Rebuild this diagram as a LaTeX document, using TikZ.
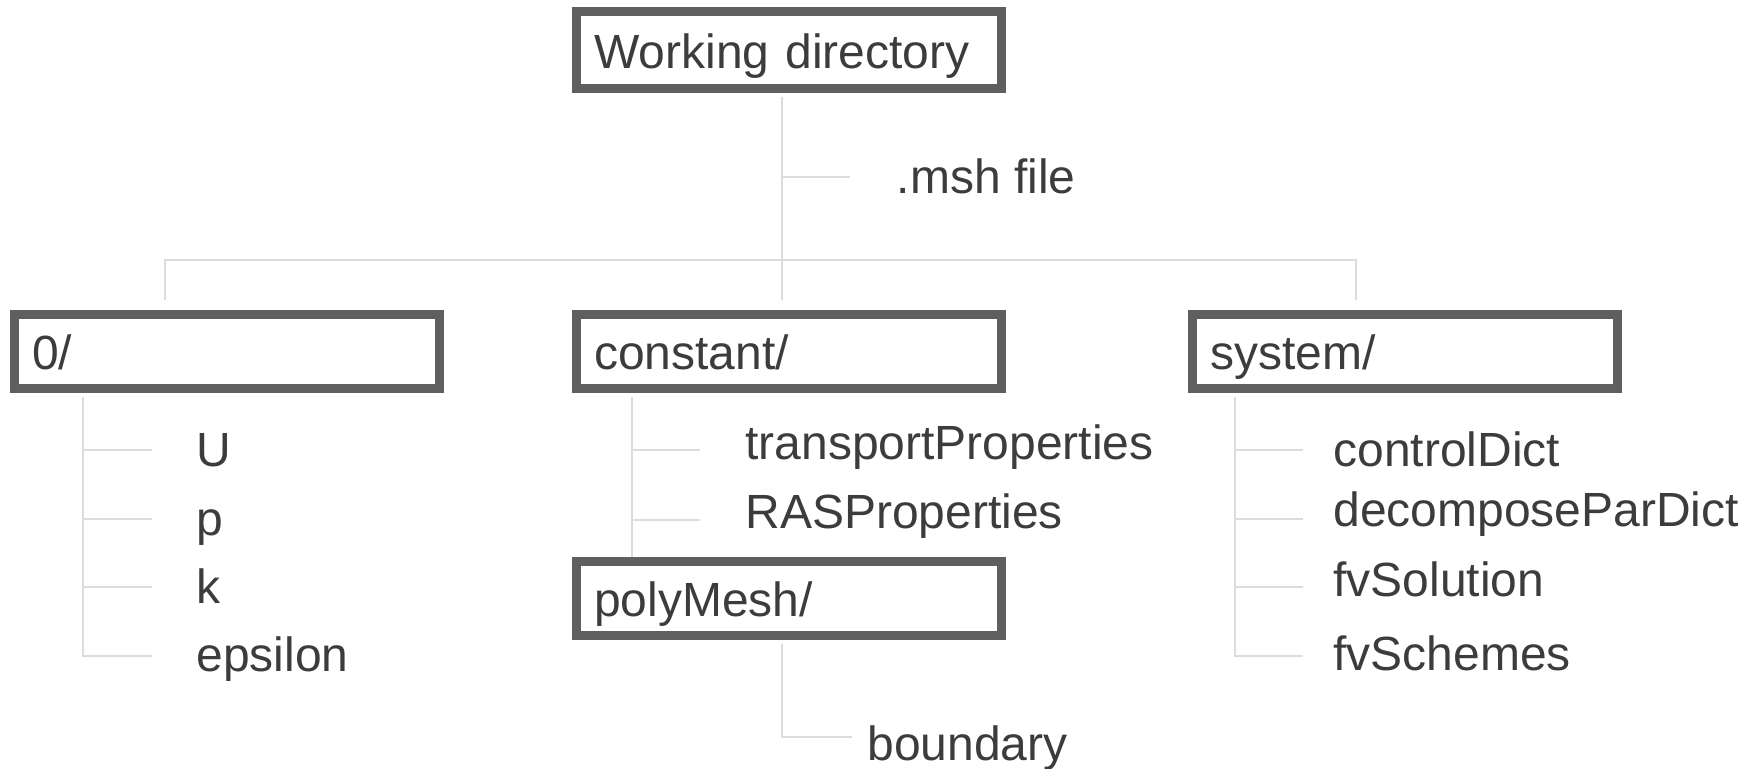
\documentclass[tikz,border=0pt]{standalone}
\usepackage{fontspec}
\setmainfont{Liberation Sans}
\usetikzlibrary{positioning}
\definecolor{boxgray}{HTML}{5F5F5F}
\definecolor{textgray}{HTML}{3C3C3C}
\definecolor{linegray}{HTML}{DCDCDC}
\tikzset{
	dirbox/.style={rectangle, draw=boxgray, line width=4.5pt, text width=194.5pt, inner xsep=9pt, inner ysep=0pt,
		minimum height=37pt, align=left, text height=18pt, text depth=0pt, text=textgray,
		font=\fontsize{24pt}{28pt}\selectfont},
	fileitem/.style={inner sep=0pt, text height=16pt, text depth=0pt, text=textgray,
		font=\fontsize{24pt}{28pt}\selectfont},
	treeline/.style={draw=linegray, line width=1pt},
}

\begin{document}
\begin{tikzpicture}[x=0.5pt, y=-0.5pt]
			%%%%% START %%%%%
			\useasboundingbox (0,0) rectangle (1763,768);
			
			\node[dirbox, minimum height=38.5pt] (wd) at (788.75,50) {Working directory};
			
			\coordinate (dropL) at (165,300);
			\coordinate (dropM) at (782,300);
			\coordinate (dropR) at (1356,300);
			\coordinate (sMsh) at (850,177.3);
			\node[fileitem, right=23.25pt of sMsh] (msh) {.msh file};
			\draw[treeline, shorten <=2pt] (wd.south -| dropM) -- (dropM);
			\draw[treeline] (dropM |- sMsh) -- (sMsh);
			\draw[treeline] (dropL) -- ++(0,-40.3) -| (dropR);
			
			\node[dirbox] (zero) at (226.6,351.3) {0/};
			\node[dirbox] (const) at (788.75,351.5) {constant/};
			\node[dirbox] (sys) at (1404.75,351.5) {system/};
			
			% 0/
			\coordinate (tZero) at (83,0);
			\coordinate (sU) at (152,450);
			\coordinate (sP) at (152,519.3);
			\coordinate (sK) at (152,587.3);
			\coordinate (sEps) at (152,655.7);
			\node[fileitem, right=22pt of sU] (U) {U};
			\node[fileitem, right=22pt of sP] (p) {p};
			\node[fileitem, right=22pt of sK] (k) {k};
			\node[fileitem, right=22pt of sEps] (eps) {epsilon};
			\draw[treeline, shorten <=2pt] (zero.south -| tZero) |- (sEps);
			\draw[treeline] (tZero |- sU) -- (sU);
			\draw[treeline] (tZero |- sP) -- (sP);
			\draw[treeline] (tZero |- sK) -- (sK);
			
			% constant/
			\node[dirbox] (poly) at (788.75,598.3) {polyMesh/};
			\coordinate (tConst) at (632,0);
			\coordinate (sTrans) at (700,450);
			\coordinate (sRAS) at (700,520);
			\node[fileitem, right=22.5pt of sTrans, yshift=3.5pt] (trans) {transportProperties};
			\node[fileitem, right=22.5pt of sRAS, yshift=4pt] (ras) {RASProperties};
			\draw[treeline, shorten <=2pt] (const.south -| tConst) -- (poly.north -| tConst);
			\draw[treeline] (tConst |- sTrans) -- (sTrans);
			\draw[treeline] (tConst |- sRAS) -- (sRAS);
			
			% polyMesh/
			\coordinate (tPoly) at (782,0);
			\coordinate (sBnd) at (852,737.3);
			\node[fileitem, right=7.5pt of sBnd, yshift=-3.4pt] (bnd) {boundary};
			\draw[treeline, shorten <=2pt] (poly.south -| tPoly) |- (sBnd);
			
			% system/
			\coordinate (tSys) at (1235,0);
			\coordinate (sCtrl) at (1303,450);
			\coordinate (sDecomp) at (1303,519.3);
			\coordinate (sSol) at (1303,587.3);
			\coordinate (sSch) at (1303,655.7);
			\node[fileitem, right=15pt of sCtrl] (ctrl) {controlDict};
			\node[fileitem, right=15pt of sDecomp, yshift=4.3pt] (decomp) {decomposeParDict};
			\node[fileitem, right=15pt of sSol, yshift=3.6pt] (sol) {fvSolution};
			\node[fileitem, right=15pt of sSch, yshift=0.8pt] (sch) {fvSchemes};
			\draw[treeline, shorten <=2pt] (sys.south -| tSys) |- (sSch);
			\draw[treeline] (tSys |- sCtrl) -- (sCtrl);
			\draw[treeline] (tSys |- sDecomp) -- (sDecomp);
			\draw[treeline] (tSys |- sSol) -- (sSol);
			
			%%%%% END %%%%%
\end{tikzpicture}
\end{document}
